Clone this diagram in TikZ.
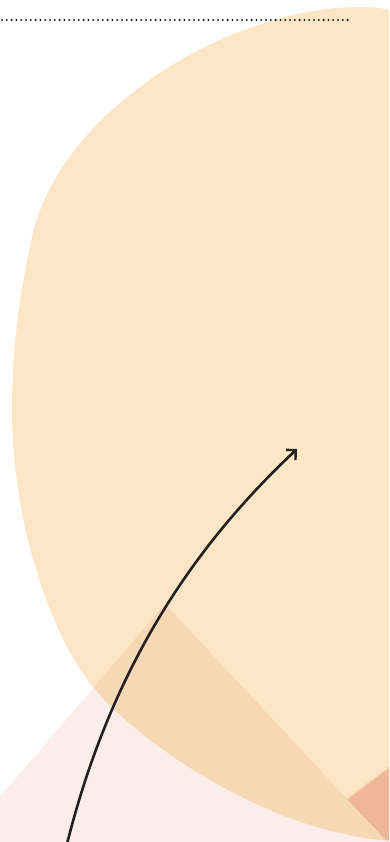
\documentclass[tikz,border=0pt]{standalone}
\usetikzlibrary{arrows.meta}
\definecolor{blobc}{HTML}{FCE6C5}
\definecolor{overc}{HTML}{F7D8B5}
\definecolor{pinkc}{HTML}{FBEDEA}
\definecolor{salmc}{HTML}{EFB697}
\definecolor{edgec}{HTML}{F8D6B2}
\definecolor{inkc}{HTML}{231F20}
\definecolor{dotc}{HTML}{222222}
\tikzset{
  dotline/.style={draw=dotc, line width=2.3pt, line cap=round, dash pattern=on 0pt off 4.8pt},
  arrowline/.style={draw=inkc, line width=2.6pt, -{Straight Barb[length=7pt,width=14pt,line width=2.4pt]}}
}
\def\blobpath{(430,16) -- (400,12) .. controls (390,9) and (375,7) .. (360,7)
  .. controls (230,7) and (60,110) .. (32,237)
  .. controls (19,297) and (12,350) .. (12,410)
  .. controls (12,520) and (50,635) .. (93,687)
  .. controls (145,749) and (280,838) .. (400,841)
  -- (430,845) -- cycle}
\begin{document}
\begin{tikzpicture}[x=1pt,y=-1pt]
\useasboundingbox (0,0) rectangle (389,842);
\begin{scope}
\clip (0,0) rectangle (389,842);
% pink shape
\fill[pinkc] (165,604) -- (347,799) -- (400,759) -- (400,860) -- (-54,860) -- cycle;
% blob
\fill[blobc] \blobpath;
% overlap of blob and pink shape
\begin{scope}
\clip \blobpath;
\fill[overc] (165,604) -- (404,860) -- (-54,860) -- cycle;
\fill[salmc] (347,799) -- (400,759) -- (400,870) -- (414,870) -- cycle;
\draw[edgec, line width=1.4pt] (347,799) -- (400,759);
\end{scope}
\end{scope}
% dotted rule
\coordinate (d1) at (2,20);
\coordinate (d2) at (351,20);
\draw[dotline] (d1) -- (d2);
% curved arrow
\coordinate (a0) at (67,844);
\coordinate (a1) at (297,449);
\draw[arrowline] (a0) .. controls (113,660) and (200,540) .. (a1);
\end{tikzpicture}
\end{document}
